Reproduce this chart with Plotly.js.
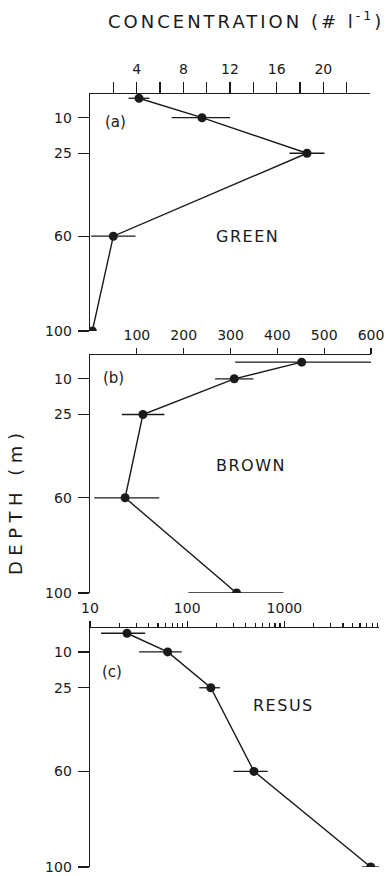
<!DOCTYPE html>
<html>
<head>
<meta charset="utf-8">
<script src="https://cdn.plot.ly/plotly-3.0.1.min.js"></script>
<style>
html,body{margin:0;padding:0;background:#fff;}
#chart{width:387px;height:876px;}
</style>
</head>
<body>
<div id="chart"></div>
<script>
// ---- data ----
const depthA = [1.8, 10, 25, 60, 100];
const greenVals = [4.2, 9.6, 18.6, 2.0, 0.2];
const greenErrPlus = [0.9, 2.4, 1.5, 1.9, 0];
const greenErrMinus = [0.9, 2.6, 1.5, 1.9, 0];

const depthB = [3, 10, 25, 60, 100];
const brownVals = [452, 308, 113, 75, 313];
const brownErrPlus = [148, 41, 46, 73, 100];
const brownErrMinus = [142, 41, 45, 66, 103];

const depthC = [2.2, 10, 25, 60, 100];
const resusVals = [24, 63, 175, 486, 7730];
const resusErrPlus = [13, 25, 42, 187, 1820];
const resusErrMinus = [11, 31, 42, 188, 1490];

const depthTicks = [10, 25, 60, 100];
const greenTickVals = [4, 8, 12, 16, 20];
const greenMinorVals = [2, 6, 10, 14, 18, 22];
const brownTickVals = [100, 200, 300, 400, 500, 600];
const resusTickVals = [10, 100, 1000];
const resusMinorVals = [20,30,40,50,60,70,80,90,200,300,400,500,600,700,800,900,2000,3000,4000,5000,6000,7000,8000,9000];

// ---- layout helpers ----
const W = 387, H = 876;
const px = x => x / W;
const py = y => 1 - y / H;
const FONT = 'DejaVu Sans, Liberation Sans, sans-serif';
const INK = '#1a1a1a';

function trace(x, y, ep, em, xa, ya) {
  return {
    x: x, y: y, xaxis: xa, yaxis: ya,
    type: 'scatter', mode: 'lines+markers',
    line: {color: INK, width: 1.4},
    marker: {color: INK, size: 9},
    error_x: {type: 'data', symmetric: false, array: ep, arrayminus: em,
              color: INK, thickness: 1.3, width: 0},
    cliponaxis: true, showlegend: false, hoverinfo: 'skip'
  };
}

const data = [
  trace(greenVals, depthA, greenErrPlus, greenErrMinus, 'x', 'y'),
  trace(brownVals, depthB, brownErrPlus, brownErrMinus, 'x2', 'y2'),
  trace(resusVals, depthC, resusErrPlus, resusErrMinus, 'x3', 'y3')
];

function xax(domain, anchor, range, vals, minorVals, type, tlen, mlen) {
  const a = {
    domain: domain, anchor: anchor, side: 'top', range: range,
    showline: true, linecolor: INK, linewidth: 1.4,
    showgrid: false, zeroline: false,
    ticks: 'outside', ticklen: tlen, tickwidth: 1.2, tickcolor: INK,
    tickmode: 'array', tickvals: vals, ticktext: vals.map(String),
    tickfont: {family: FONT, size: 14, color: INK},
    ticklabelstandoff: 2
  };
  if (minorVals) {
    a.minor = {tickmode: 'array', tickvals: minorVals, ticks: 'outside',
               ticklen: mlen, tickwidth: 1.2, tickcolor: INK, showgrid: false};
  }
  if (type) a.type = type;
  return a;
}
function yax(domain, anchor) {
  return {
    domain: domain, anchor: anchor, range: [100, 0],
    showline: true, linecolor: INK, linewidth: 1.4,
    showgrid: false, zeroline: false,
    ticks: 'outside', ticklen: 11, tickwidth: 1.2, tickcolor: INK,
    tickmode: 'array', tickvals: depthTicks, ticktext: depthTicks.map(String),
    tickfont: {family: FONT, size: 14, color: INK},
    ticklabelstandoff: 3
  };
}

function ann(text, x, y, size, extra) {
  return Object.assign({
    text: text, x: px(x), y: py(y), xref: 'paper', yref: 'paper',
    showarrow: false, xanchor: 'center', yanchor: 'middle',
    font: {family: FONT, size: size, color: INK}
  }, extra || {});
}

const layout = {
  width: W, height: H,
  margin: {l: 0, r: 0, t: 0, b: 0},
  paper_bgcolor: '#fff', plot_bgcolor: 'rgba(0,0,0,0)',
  showlegend: false,
  xaxis: xax([px(90), px(370)], 'y', [0, 24], greenTickVals, greenMinorVals, null, 11, 11),
  yaxis: yax([py(331), py(94)], 'x'),
  xaxis2: xax([px(90), px(371)], 'y2', [0, 600], brownTickVals, null, null, 6, 6),
  yaxis2: yax([py(593), py(355)], 'x2'),
  xaxis3: xax([px(90), px(379)], 'y3', [1, 3.973], resusTickVals, resusMinorVals, 'log', 6, 4),
  yaxis3: yax([py(867), py(628)], 'x3'),
  annotations: [
    ann('<span style="letter-spacing:3px">CONCENTRATION (# l<sup>-1</sup>)</span>', 246, 20, 18),
    ann('<span style="letter-spacing:5.5px">DEPTH (m)</span>', 15, 502, 18, {textangle: -90}),
    ann('(a)', 115, 122, 15),
    ann('(b)', 113, 378, 15),
    ann('(c)', 112, 672, 15),
    ann('<span style="letter-spacing:1.5px">GREEN</span>', 248, 236, 16),
    ann('<span style="letter-spacing:1.5px">BROWN</span>', 251, 465, 16),
    ann('<span style="letter-spacing:1.5px">RESUS</span>', 283, 705, 16)
  ]
};

Plotly.newPlot('chart', data, layout, {staticPlot: true, displayModeBar: false});
</script>
</body>
</html>
